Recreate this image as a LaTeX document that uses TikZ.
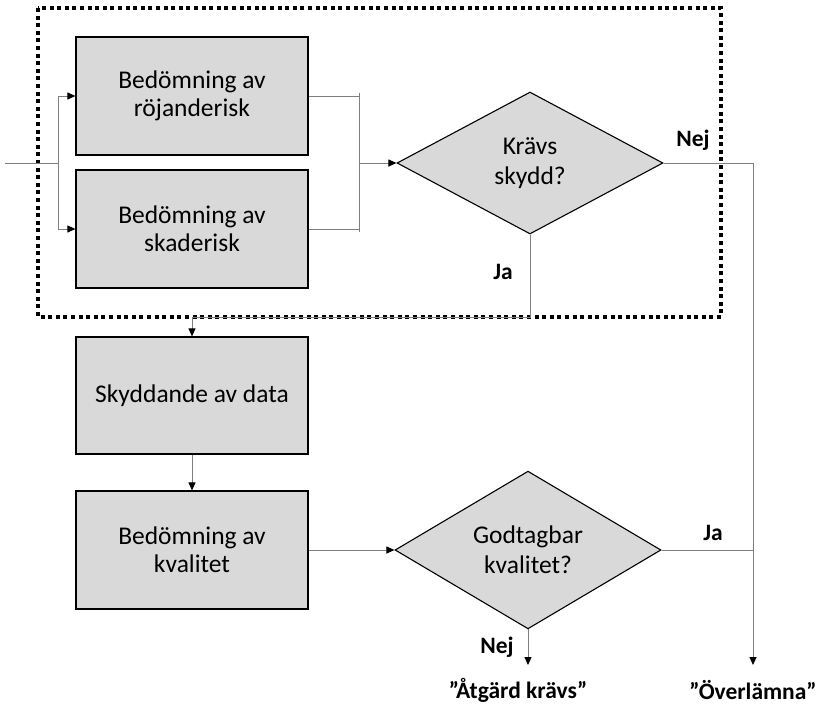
\documentclass[tikz,border=0pt]{standalone}
\usepackage{fontspec}
\setmainfont{Carlito}
\usetikzlibrary{shapes.geometric,arrows.meta}
\definecolor{boxgray}{HTML}{D9D9D9}
\definecolor{linegray}{HTML}{7F7F7F}
\tikzset{
  stepbox/.style={draw=black, line width=1.2pt, fill=boxgray, minimum width=232pt, minimum height=118pt,
    inner sep=0pt, align=center, font=\fontsize{25.5}{28}\selectfont},
  decision/.style={diamond, draw=black, line width=1.1pt, fill=boxgray, minimum width=266pt, minimum height=142pt,
    inner sep=0pt, align=center, font=\fontsize{25.5}{30}\selectfont},
  conn/.style={draw=linegray, line width=1pt},
  arr/.style={conn, -{Triangle[length=8pt,width=7pt,color=black]}},
  answer/.style={font=\bfseries\fontsize{23.5}{26}\selectfont},
}
\begin{document}
\begin{tikzpicture}[x=1pt,y=-1pt]
    \useasboundingbox (0,0) rectangle (825,705);
    % dotted frame round the risk part
    \draw[line width=4pt, dash pattern=on 4pt off 3.6pt] (38,8) rectangle (721,317);
    \node[stepbox] (rojande) at (192,96) {Bedömning av\\röjanderisk};
    \node[stepbox] (skade) at (192,229) {Bedömning av\\skaderisk};
    \node[decision] (skydd) at (530,163) {Krävs\\skydd?};
    \node[stepbox, minimum height=117pt] (skyddande) at (192,395.5) {Skyddande av data};
    \node[stepbox] (kvalitet) at (192,550) {Bedömning av\\kvalitet};
    \node[decision] (godtagbar) at (528,550) {Godtagbar\\kvalitet?};
    \node[answer] (atgard) at (518,690) {”Åtgärd krävs”};
    \node[answer] (overlamna) at (753,690) {”Överlämna”};
    \node[answer] (nejskydd) at (693,140) {Nej};
    \node[answer] (jaskydd) at (503,272) {Ja};
    \node[answer] (jakval) at (713,533) {Ja};
    \node[answer] (nejkval) at (497,647) {Nej};
    \coordinate (in) at (5,163);
    \coordinate (split) at (58,163);
    \coordinate (join) at (359,163);
    \coordinate (exit) at (753,163);
    \coordinate (merge) at (192,317);
    \coordinate (endja) at (753,665);
    \coordinate (endnej) at (528,665);
    % input and split
    \draw[conn] (in) -- (split);
    \draw[conn] (split |- rojande) -- (split |- skade);
    \draw[arr] (split |- rojande) -- (rojande.west);
    \draw[arr] (split |- skade) -- (skade.west);
    % join
    \draw[conn] (rojande.east) -- (join |- rojande);
    \draw[conn] (skade.east) -- (join |- skade);
    \draw[conn, shorten <=-3pt, shorten >=-3pt] (join |- rojande) -- (join |- skade);
    \draw[arr] (join) -- (skydd.west);
    % decisions
    \draw[conn] (skydd.east) -- (exit);
    \draw[arr] (exit) -- (endja);
    \draw[arr] (skydd.south) |- (merge) -- (skyddande.north);
    \draw[arr] (skyddande) -- (kvalitet);
    \draw[arr] (kvalitet.east) -- (godtagbar.west);
    \draw[conn] (godtagbar.east) -- (godtagbar.east -| exit);
    \draw[arr] (godtagbar.south) -- (endnej);
\end{tikzpicture}
\end{document}
